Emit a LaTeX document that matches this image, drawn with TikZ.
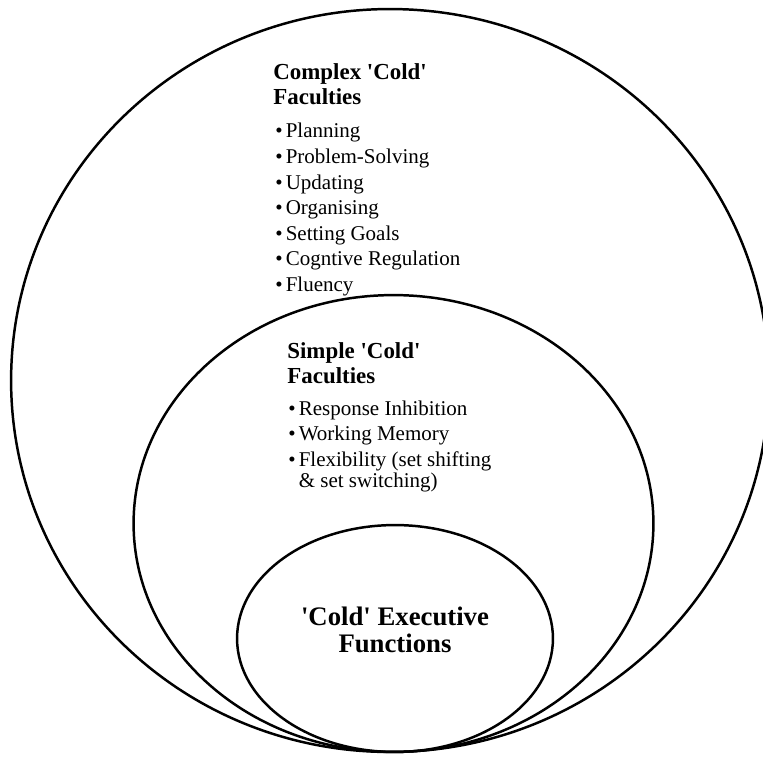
\documentclass[tikz,border=0pt]{standalone}
\usepackage{fontspec}
\setmainfont{Liberation Serif}
\usetikzlibrary{positioning}
\tikzset{
  ring/.style={draw, line width=1.3pt},   % the nested ellipses
  heading/.style={font=\fontsize{12}{13.1}\selectfont\bfseries,
                  align=left, inner sep=0pt, anchor=north west},
  items/.style={font=\fontsize{11}{11.5}\selectfont,
                align=left, inner sep=0pt, anchor=north west},
  core/.style={font=\fontsize{14}{14.1}\selectfont\bfseries,
               align=center, inner sep=0pt, anchor=north}}
\newcommand{\itm}{\textbullet\hspace{1.6pt}}
\newcommand{\sq}{\textquotesingle}   % straight quote, not a curly one

\begin{document}
\begin{tikzpicture}[x=0.5236pt, y=-0.5236pt]
  \useasboundingbox (0,0) rectangle (763,756);

  % three ellipses, all touching at the bottom
  \draw [ring] (390,380.5) ellipse [x radius=198.4pt, y radius=194.5pt];
  \draw [ring] (393.5,523.5) ellipse [x radius=136.1pt, y radius=119.6pt];
  \draw [ring] (395,638.5) ellipse [x radius=82.7pt, y radius=59.4pt];

  % outer ring
  \node [heading] (complex) at (273,63) {Complex \sq Cold\sq\\ Faculties};
  \node [items] (complexlist) at (275,123) {
    \itm Planning\\[1.9pt]
    \itm Problem-Solving\\[1.9pt]
    \itm Updating\\[1.9pt]
    \itm Organising\\[1.9pt]
    \itm Setting Goals\\[1.9pt]
    \itm Cogntive Regulation\\[1.9pt]
    \itm Fluency
  };

  % middle ring
  \node [heading] (simple) at (287,342) {Simple \sq Cold\sq\\ Faculties};
  \node [items] (simplelist) at (288,401) {
    \itm Response Inhibition\\[1.6pt]
    \itm Working Memory\\[1.6pt]
    \itm Flexibility (set shifting\\
    \phantom{\itm}\& set switching)
  };

  % inner ring
  \node [core] (cold) at (395,607) {\sq Cold\sq{} Executive\\ Functions};
\end{tikzpicture}
\end{document}
